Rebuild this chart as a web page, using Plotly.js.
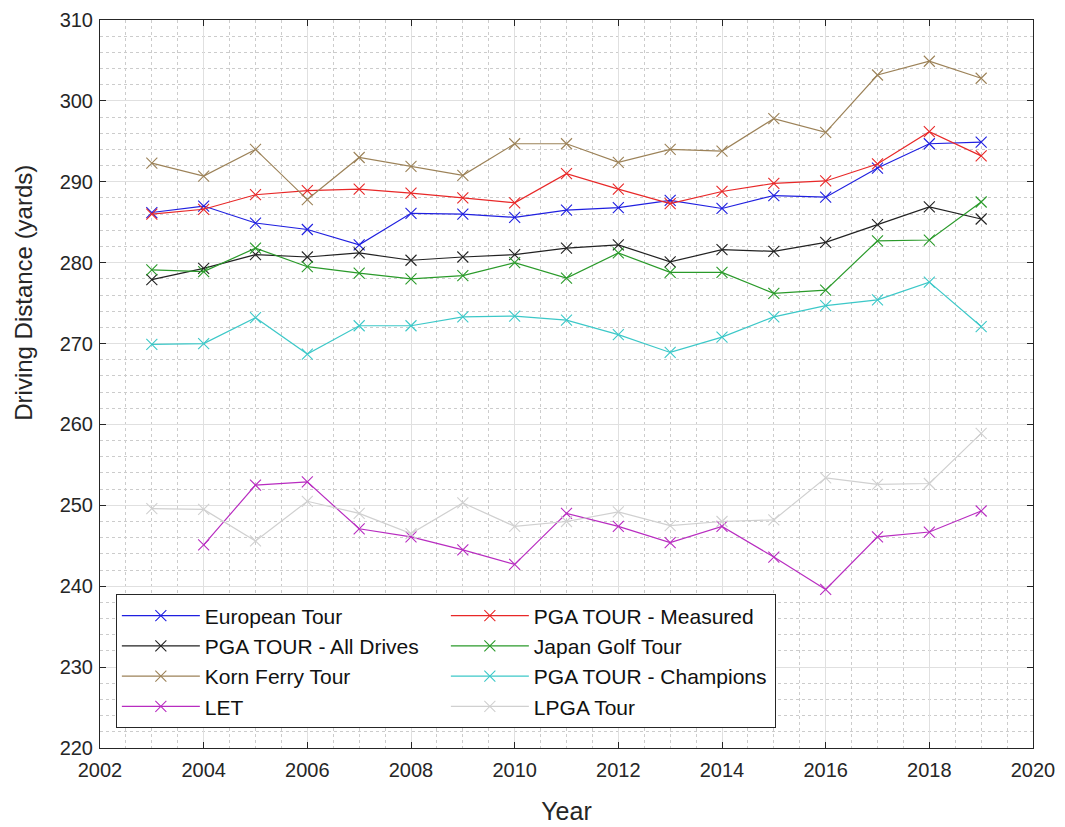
<!DOCTYPE html>
<html>
<head>
<meta charset="utf-8">
<script src="https://cdn.plot.ly/plotly-3.0.1.min.js"></script>
<style>html,body{margin:0;padding:0;background:#fff;}#chart{width:1065px;height:827px;}</style>
</head>
<body>
<div id="chart"></div>
<script>
const years = [2003,2004,2005,2006,2007,2008,2009,2010,2011,2012,2013,2014,2015,2016,2017,2018,2019];

const europeanTour   = [286.2,287.0,284.9,284.1,282.2,286.1,286.0,285.6,286.5,286.8,287.7,286.7,288.3,288.1,291.7,294.7,294.9];
const pgaMeasured    = [286.0,286.6,288.4,288.9,289.1,288.6,288.0,287.4,291.0,289.1,287.3,288.8,289.8,290.1,292.2,296.2,293.2];
const pgaAllDrives   = [277.9,279.3,281.0,280.7,281.2,280.3,280.7,281.0,281.8,282.2,280.1,281.6,281.4,282.5,284.7,286.9,285.4];
const japanGolfTour  = [279.1,278.9,281.8,279.5,278.7,278.0,278.4,280.0,278.1,281.2,278.8,278.8,276.2,276.6,282.7,282.8,287.5];
const kornFerryTour  = [292.3,290.7,294.0,287.8,293.0,291.9,290.8,294.7,294.7,292.4,294.0,293.8,297.8,296.1,303.2,304.9,302.8];
const pgaChampions   = [269.9,270.0,273.2,268.7,272.2,272.2,273.3,273.4,272.9,271.1,268.9,270.8,273.3,274.7,275.4,277.6,272.1];
const letTour        = [null,245.1,252.5,252.9,247.1,246.1,244.5,242.7,249.0,247.4,245.4,247.4,243.6,239.6,246.1,246.7,249.3];
const lpgaTour       = [249.6,249.5,245.6,250.5,249.0,246.5,250.3,247.4,248.0,249.2,247.5,248.0,248.2,253.4,252.6,252.7,258.9];

const seriesNames = ["European Tour","PGA TOUR - Measured","PGA TOUR - All Drives","Japan Golf Tour","Korn Ferry Tour","PGA TOUR - Champions","LET","LPGA Tour"];
const seriesValues = [europeanTour,pgaMeasured,pgaAllDrives,japanGolfTour,kornFerryTour,pgaChampions,letTour,lpgaTour];
const seriesColors = ["#1f1fe0","#e82828","#222222","#2a9a2a","#9c8258","#3cc8c8","#b82cc0","#d0d0d0"];

const traces = seriesNames.map((n,i)=>({
  type:'scatter', mode:'lines+markers', name:n, x:years, y:seriesValues[i],
  connectgaps:false,
  line:{color:seriesColors[i], width:1.2},
  marker:{symbol:'x-thin', size:11, line:{color:seriesColors[i], width:1.1}, color:seriesColors[i]}
}));

const fontFam = 'Liberation Sans, Arial, sans-serif';
const axCommon = {
  showline:true, mirror:'allticks', linecolor:'#262626', linewidth:1,
  ticks:'inside', ticklen:6, tickcolor:'#262626', tickwidth:1,
  showgrid:true, gridcolor:'#e0e0e0', gridwidth:1,
  zeroline:false,
  tickfont:{family:fontFam, size:20, color:'#262626'}
};

const layout = {
  width:1065, height:827,
  margin:{l:100, r:32, t:20, b:79},
  paper_bgcolor:'#ffffff', plot_bgcolor:'#ffffff',
  font:{family:fontFam, color:'#262626'},
  xaxis:Object.assign({}, axCommon, {
    range:[2002,2020], tickvals:[2002,2004,2006,2008,2010,2012,2014,2016,2018,2020],
    ticklabelstandoff:4,
    title:{text:'Year', font:{family:fontFam, size:25, color:'#262626'}, standoff:22},
    minor:{dtick:0.5, tick0:2002, showgrid:true, gridcolor:'#cccccc', griddash:'dot', gridwidth:1, ticks:''}
  }),
  yaxis:Object.assign({}, axCommon, {
    range:[220,310], tickvals:[220,230,240,250,260,270,280,290,300,310],
    ticklabelstandoff:2,
    minor:{dtick:2, tick0:220, showgrid:true, gridcolor:'#cccccc', griddash:'dot', gridwidth:1, ticks:''}
  }),
  annotations:[{
    text:'Driving Distance (yards)', textangle:-90, showarrow:false,
    xref:'paper', yref:'paper', x:-0.082, y:0.626, xanchor:'center', yanchor:'middle',
    font:{family:fontFam, size:24, color:'#262626'}
  }],
  legend:{
    orientation:'h', x:0.017, y:0.211, xanchor:'left', yanchor:'top',
    bgcolor:'#ffffff', bordercolor:'#262626', borderwidth:1,
    font:{family:fontFam, size:21, color:'#111111'},
    entrywidth:236, entrywidthmode:'pixels', traceorder:'normal',
    itemwidth:78
  },
  showlegend:true
};

Plotly.newPlot('chart', traces, layout, {displayModeBar:false, staticPlot:true});
</script>
</body>
</html>
